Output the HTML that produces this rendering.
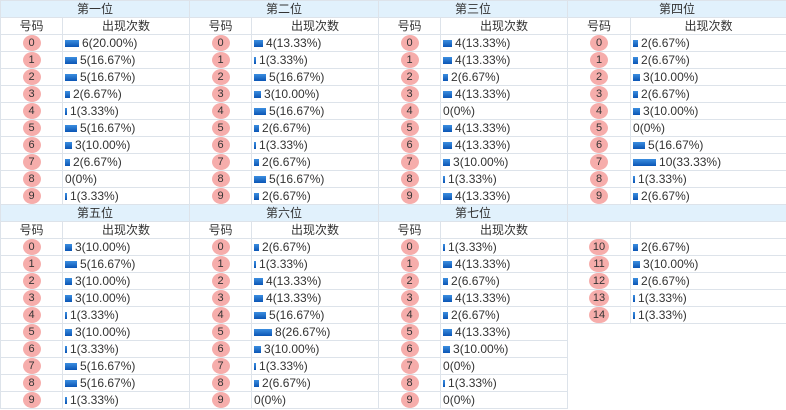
<!DOCTYPE html><html><head><meta charset="utf-8"><style>
body{margin:0;width:786px;height:410px;background:#fff;font-family:"Liberation Sans","Noto Sans CJK SC",sans-serif;font-size:12px;color:#333;overflow:hidden}
table{border-collapse:collapse;table-layout:fixed;width:786px}
tr{height:17px}
td{height:16px;border:1px solid #dde3ea;padding:0;white-space:nowrap;overflow:hidden;line-height:16px;vertical-align:top}
tr.h td{background:#e1f1fc;text-align:center}
tr.s td{text-align:center}
td.n{text-align:center}
td.c{padding-left:2px}
i{display:inline-block;width:18px;height:16px;line-height:16px;border-radius:9px/8px;background:#f6adab;font-style:normal;text-align:center;vertical-align:top;color:#333;font-size:11px}
i.w{width:20px}
b{display:inline-block;height:7px;background:linear-gradient(#3b8ee0,#0a55b5);vertical-align:top;margin-top:5px;margin-right:3px}
td.e{border:none}
</style></head><body>
<table>
<colgroup><col style="width:62px"><col style="width:127px"><col style="width:62px"><col style="width:127px"><col style="width:62px"><col style="width:127px"><col style="width:63px"><col style="width:156px"></colgroup>
<tr class="h"><td colspan="2">第一位</td><td colspan="2">第二位</td><td colspan="2">第三位</td><td colspan="2">第四位</td></tr>
<tr class="s"><td>号码</td><td>出现次数</td><td>号码</td><td>出现次数</td><td>号码</td><td>出现次数</td><td>号码</td><td>出现次数</td></tr>
<tr><td class="n"><i>0</i></td><td class="c"><b style="width:14px"></b>6(20.00%)</td><td class="n"><i>0</i></td><td class="c"><b style="width:9px"></b>4(13.33%)</td><td class="n"><i>0</i></td><td class="c"><b style="width:9px"></b>4(13.33%)</td><td class="n"><i>0</i></td><td class="c"><b style="width:5px"></b>2(6.67%)</td></tr>
<tr><td class="n"><i>1</i></td><td class="c"><b style="width:12px"></b>5(16.67%)</td><td class="n"><i>1</i></td><td class="c"><b style="width:2px"></b>1(3.33%)</td><td class="n"><i>1</i></td><td class="c"><b style="width:9px"></b>4(13.33%)</td><td class="n"><i>1</i></td><td class="c"><b style="width:5px"></b>2(6.67%)</td></tr>
<tr><td class="n"><i>2</i></td><td class="c"><b style="width:12px"></b>5(16.67%)</td><td class="n"><i>2</i></td><td class="c"><b style="width:12px"></b>5(16.67%)</td><td class="n"><i>2</i></td><td class="c"><b style="width:5px"></b>2(6.67%)</td><td class="n"><i>2</i></td><td class="c"><b style="width:7px"></b>3(10.00%)</td></tr>
<tr><td class="n"><i>3</i></td><td class="c"><b style="width:5px"></b>2(6.67%)</td><td class="n"><i>3</i></td><td class="c"><b style="width:7px"></b>3(10.00%)</td><td class="n"><i>3</i></td><td class="c"><b style="width:9px"></b>4(13.33%)</td><td class="n"><i>3</i></td><td class="c"><b style="width:5px"></b>2(6.67%)</td></tr>
<tr><td class="n"><i>4</i></td><td class="c"><b style="width:2px"></b>1(3.33%)</td><td class="n"><i>4</i></td><td class="c"><b style="width:12px"></b>5(16.67%)</td><td class="n"><i>4</i></td><td class="c">0(0%)</td><td class="n"><i>4</i></td><td class="c"><b style="width:7px"></b>3(10.00%)</td></tr>
<tr><td class="n"><i>5</i></td><td class="c"><b style="width:12px"></b>5(16.67%)</td><td class="n"><i>5</i></td><td class="c"><b style="width:5px"></b>2(6.67%)</td><td class="n"><i>5</i></td><td class="c"><b style="width:9px"></b>4(13.33%)</td><td class="n"><i>5</i></td><td class="c">0(0%)</td></tr>
<tr><td class="n"><i>6</i></td><td class="c"><b style="width:7px"></b>3(10.00%)</td><td class="n"><i>6</i></td><td class="c"><b style="width:2px"></b>1(3.33%)</td><td class="n"><i>6</i></td><td class="c"><b style="width:9px"></b>4(13.33%)</td><td class="n"><i>6</i></td><td class="c"><b style="width:12px"></b>5(16.67%)</td></tr>
<tr><td class="n"><i>7</i></td><td class="c"><b style="width:5px"></b>2(6.67%)</td><td class="n"><i>7</i></td><td class="c"><b style="width:5px"></b>2(6.67%)</td><td class="n"><i>7</i></td><td class="c"><b style="width:7px"></b>3(10.00%)</td><td class="n"><i>7</i></td><td class="c"><b style="width:23px"></b>10(33.33%)</td></tr>
<tr><td class="n"><i>8</i></td><td class="c">0(0%)</td><td class="n"><i>8</i></td><td class="c"><b style="width:12px"></b>5(16.67%)</td><td class="n"><i>8</i></td><td class="c"><b style="width:2px"></b>1(3.33%)</td><td class="n"><i>8</i></td><td class="c"><b style="width:2px"></b>1(3.33%)</td></tr>
<tr><td class="n"><i>9</i></td><td class="c"><b style="width:2px"></b>1(3.33%)</td><td class="n"><i>9</i></td><td class="c"><b style="width:5px"></b>2(6.67%)</td><td class="n"><i>9</i></td><td class="c"><b style="width:9px"></b>4(13.33%)</td><td class="n"><i>9</i></td><td class="c"><b style="width:5px"></b>2(6.67%)</td></tr>
<tr class="h"><td colspan="2">第五位</td><td colspan="2">第六位</td><td colspan="2">第七位</td><td colspan="2"></td></tr>
<tr class="s"><td>号码</td><td>出现次数</td><td>号码</td><td>出现次数</td><td>号码</td><td>出现次数</td><td></td><td></td></tr>
<tr><td class="n"><i>0</i></td><td class="c"><b style="width:7px"></b>3(10.00%)</td><td class="n"><i>0</i></td><td class="c"><b style="width:5px"></b>2(6.67%)</td><td class="n"><i>0</i></td><td class="c"><b style="width:2px"></b>1(3.33%)</td><td class="n"><i class="w">10</i></td><td class="c"><b style="width:5px"></b>2(6.67%)</td></tr>
<tr><td class="n"><i>1</i></td><td class="c"><b style="width:12px"></b>5(16.67%)</td><td class="n"><i>1</i></td><td class="c"><b style="width:2px"></b>1(3.33%)</td><td class="n"><i>1</i></td><td class="c"><b style="width:9px"></b>4(13.33%)</td><td class="n"><i class="w">11</i></td><td class="c"><b style="width:7px"></b>3(10.00%)</td></tr>
<tr><td class="n"><i>2</i></td><td class="c"><b style="width:7px"></b>3(10.00%)</td><td class="n"><i>2</i></td><td class="c"><b style="width:9px"></b>4(13.33%)</td><td class="n"><i>2</i></td><td class="c"><b style="width:5px"></b>2(6.67%)</td><td class="n"><i class="w">12</i></td><td class="c"><b style="width:5px"></b>2(6.67%)</td></tr>
<tr><td class="n"><i>3</i></td><td class="c"><b style="width:7px"></b>3(10.00%)</td><td class="n"><i>3</i></td><td class="c"><b style="width:9px"></b>4(13.33%)</td><td class="n"><i>3</i></td><td class="c"><b style="width:9px"></b>4(13.33%)</td><td class="n"><i class="w">13</i></td><td class="c"><b style="width:2px"></b>1(3.33%)</td></tr>
<tr><td class="n"><i>4</i></td><td class="c"><b style="width:2px"></b>1(3.33%)</td><td class="n"><i>4</i></td><td class="c"><b style="width:12px"></b>5(16.67%)</td><td class="n"><i>4</i></td><td class="c"><b style="width:5px"></b>2(6.67%)</td><td class="n"><i class="w">14</i></td><td class="c"><b style="width:2px"></b>1(3.33%)</td></tr>
<tr><td class="n"><i>5</i></td><td class="c"><b style="width:7px"></b>3(10.00%)</td><td class="n"><i>5</i></td><td class="c"><b style="width:18px"></b>8(26.67%)</td><td class="n"><i>5</i></td><td class="c"><b style="width:9px"></b>4(13.33%)</td><td class="e"></td><td class="e"></td></tr>
<tr><td class="n"><i>6</i></td><td class="c"><b style="width:2px"></b>1(3.33%)</td><td class="n"><i>6</i></td><td class="c"><b style="width:7px"></b>3(10.00%)</td><td class="n"><i>6</i></td><td class="c"><b style="width:7px"></b>3(10.00%)</td><td class="e"></td><td class="e"></td></tr>
<tr><td class="n"><i>7</i></td><td class="c"><b style="width:12px"></b>5(16.67%)</td><td class="n"><i>7</i></td><td class="c"><b style="width:2px"></b>1(3.33%)</td><td class="n"><i>7</i></td><td class="c">0(0%)</td><td class="e"></td><td class="e"></td></tr>
<tr><td class="n"><i>8</i></td><td class="c"><b style="width:12px"></b>5(16.67%)</td><td class="n"><i>8</i></td><td class="c"><b style="width:5px"></b>2(6.67%)</td><td class="n"><i>8</i></td><td class="c"><b style="width:2px"></b>1(3.33%)</td><td class="e"></td><td class="e"></td></tr>
<tr><td class="n"><i>9</i></td><td class="c"><b style="width:2px"></b>1(3.33%)</td><td class="n"><i>9</i></td><td class="c">0(0%)</td><td class="n"><i>9</i></td><td class="c">0(0%)</td><td class="e"></td><td class="e"></td></tr>
</table>
</body></html>
